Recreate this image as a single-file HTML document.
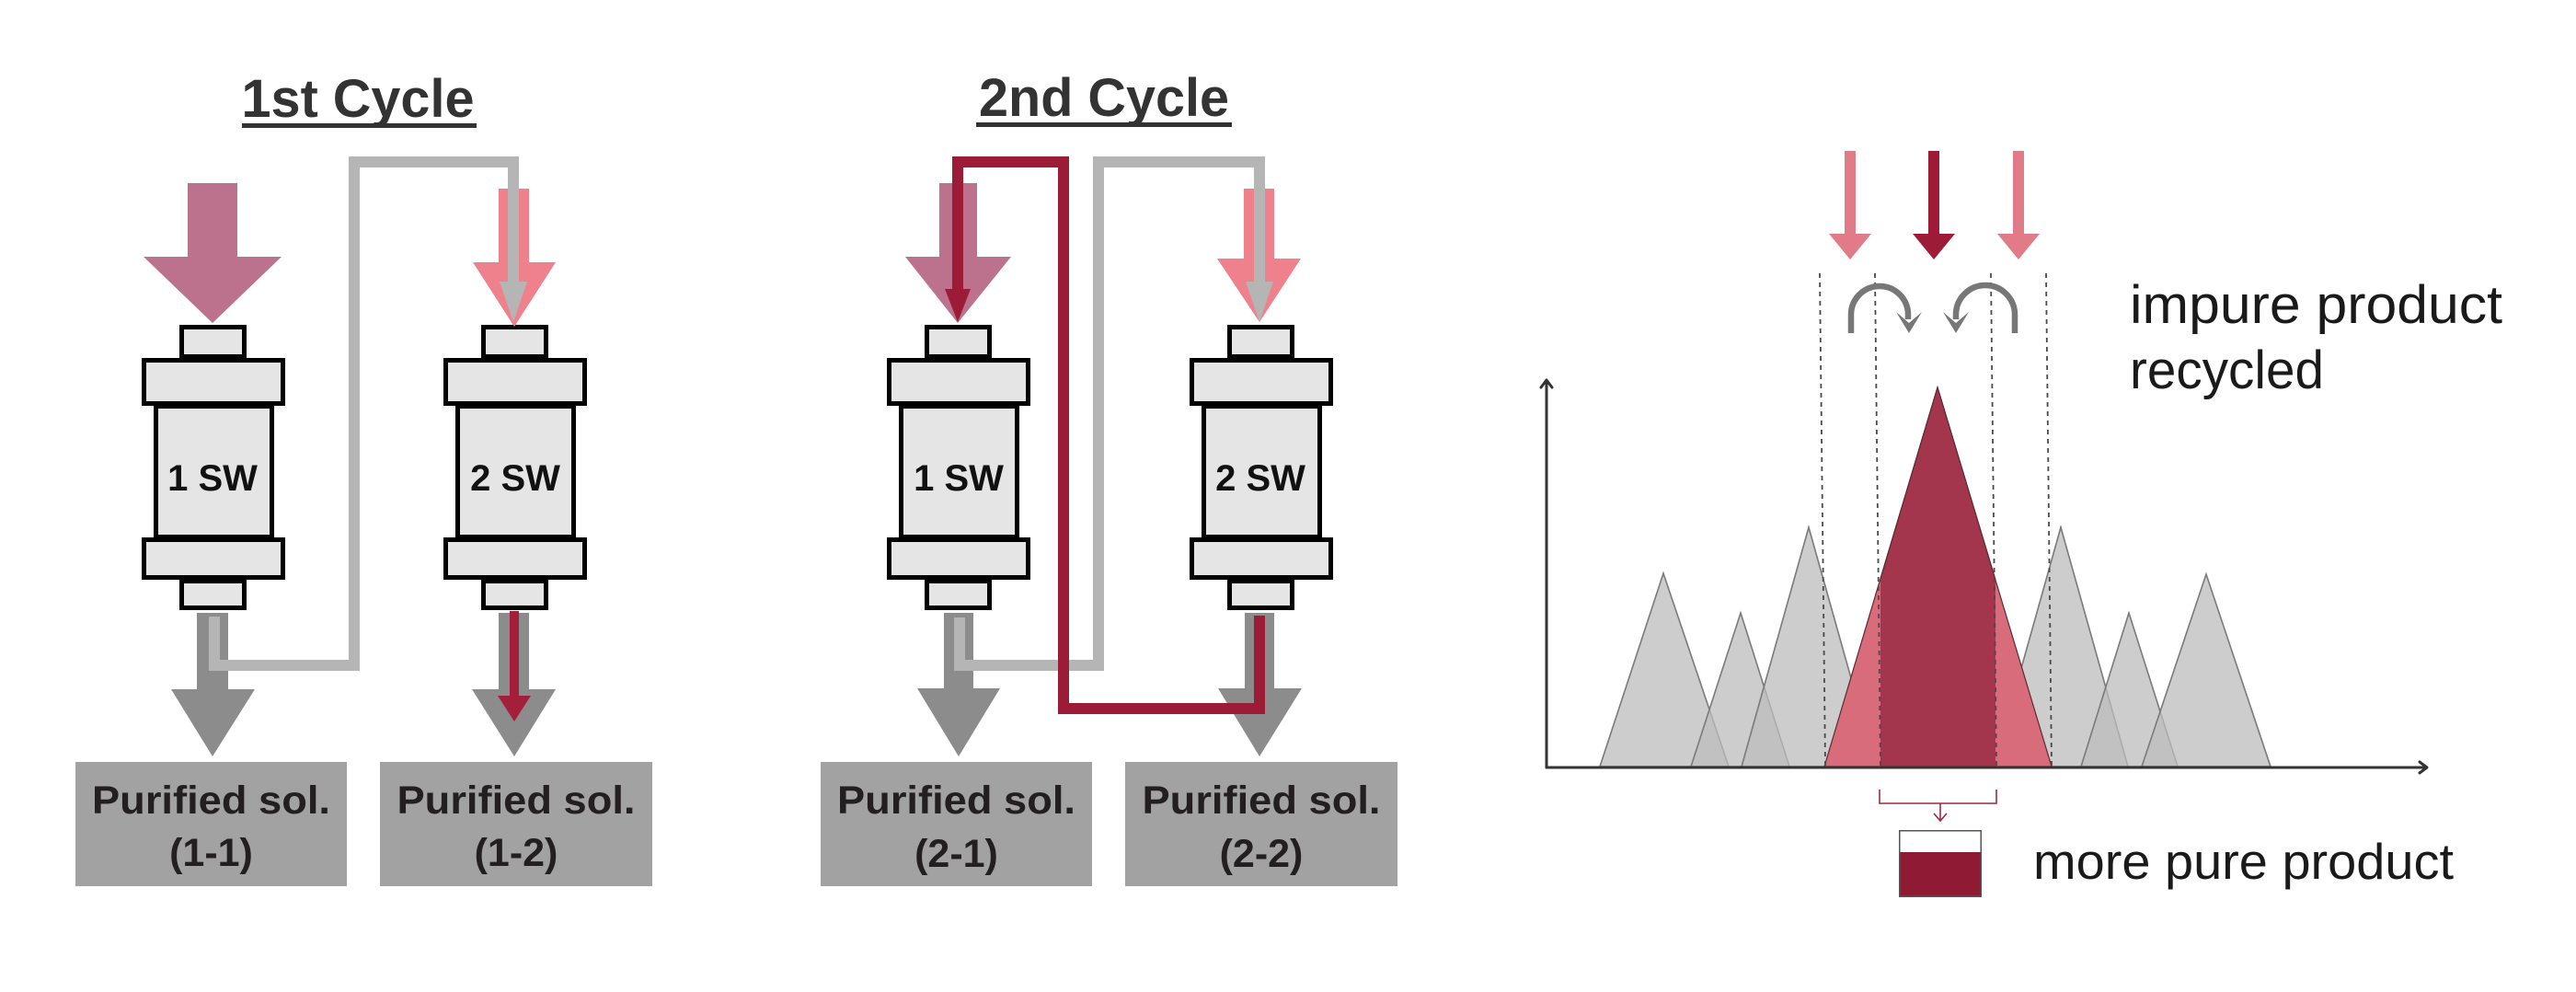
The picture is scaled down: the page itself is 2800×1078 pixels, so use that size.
<!DOCTYPE html>
<html>
<head>
<meta charset="utf-8">
<style>
  html, body { margin: 0; padding: 0; background: #ffffff; }
  svg { display: block; }
  .ttl { font-family: "Liberation Sans", sans-serif; font-weight: bold; font-size: 58px; fill: #333333; }
  .sw { font-family: "Liberation Sans", sans-serif; font-weight: bold; font-size: 40px; fill: #111111; }
  .box { font-family: "Liberation Sans", sans-serif; font-weight: bold; font-size: 43px; fill: #231f20; }
  .lbl { font-family: "Liberation Sans", sans-serif; font-size: 58px; fill: #1a1a1a; }
</style>
</head>
<body>
<svg width="2800" height="1078" viewBox="0 0 2800 1078" xmlns="http://www.w3.org/2000/svg">
  <rect x="0" y="0" width="2800" height="1078" fill="#ffffff"/>

  <!-- ===== Titles ===== -->
  <text class="ttl" x="389" y="127" text-anchor="middle" textLength="253" lengthAdjust="spacingAndGlyphs">1st Cycle</text>
  <rect x="263" y="134" width="255" height="5" fill="#333333"/>
  <text class="ttl" x="1200" y="126" text-anchor="middle" textLength="272" lengthAdjust="spacingAndGlyphs">2nd Cycle</text>
  <rect x="1061" y="133" width="278" height="5" fill="#333333"/>

  <!-- ===== Columns ===== -->
  <g id="cols" fill="#e5e5e5" stroke="#000000" stroke-width="5">
    <!-- col c=231 -->
    <rect x="169.5" y="441.5" width="126" height="142"/>
    <rect x="156.5" y="391.5" width="151" height="47"/>
    <rect x="156.5" y="586.5" width="151" height="41"/>
    <rect x="197.5" y="355.5" width="68" height="32"/>
    <rect x="197.5" y="631.5" width="68" height="29"/>
    <!-- col c=559 -->
    <rect x="497.5" y="441.5" width="126" height="142"/>
    <rect x="484.5" y="391.5" width="151" height="47"/>
    <rect x="484.5" y="586.5" width="151" height="41"/>
    <rect x="525.5" y="355.5" width="68" height="32"/>
    <rect x="525.5" y="631.5" width="68" height="29"/>
    <!-- col c=1041 -->
    <rect x="979.5" y="441.5" width="126" height="142"/>
    <rect x="966.5" y="391.5" width="151" height="47"/>
    <rect x="966.5" y="586.5" width="151" height="41"/>
    <rect x="1007.5" y="355.5" width="68" height="32"/>
    <rect x="1007.5" y="631.5" width="68" height="29"/>
    <!-- col c=1370 -->
    <rect x="1308.5" y="441.5" width="126" height="142"/>
    <rect x="1295.5" y="391.5" width="151" height="47"/>
    <rect x="1295.5" y="586.5" width="151" height="41"/>
    <rect x="1336.5" y="355.5" width="68" height="32"/>
    <rect x="1336.5" y="631.5" width="68" height="29"/>
  </g>
  <text class="sw" x="231" y="533" text-anchor="middle">1 SW</text>
  <text class="sw" x="560" y="533" text-anchor="middle">2 SW</text>
  <text class="sw" x="1042" y="533" text-anchor="middle">1 SW</text>
  <text class="sw" x="1370" y="533" text-anchor="middle">2 SW</text>

  <!-- ===== Input arrows ===== -->
  <polygon fill="#bc728c" points="204,199 258,199 258,279 306,279 231,351 156,279 204,279"/>
  <polygon fill="#ee818c" points="542,205 575,205 575,285 604,285 559,355 514,285 542,285"/>
  <polygon fill="#bc728c" points="1021,199 1062,199 1062,279 1099,279 1041,351 984,279 1021,279"/>
  <polygon fill="#ee818c" points="1352,205 1385,205 1385,281 1414,281 1369,350 1323,281 1352,281"/>

  <!-- ===== Output arrows (dark gray) ===== -->
  <polygon fill="#8c8c8c" points="214,666 248,666 248,749 277,749 231,822 186,749 214,749"/>
  <polygon fill="#8c8c8c" points="542,666 575,666 575,749 604,749 559,822 513,749 542,749"/>
  <polygon fill="#8c8c8c" points="1026,666 1058,666 1058,748 1087,748 1042,822 997,748 1026,748"/>
  <polygon fill="#8c8c8c" points="1353,666 1385,666 1385,748 1415,748 1369,822 1324,748 1353,748"/>

  <!-- ===== Light gray connectors ===== -->
  <polyline fill="none" stroke="#b5b5b5" stroke-width="12" stroke-linejoin="miter" points="233,670 233,723 385,723 385,176 558,176 558,310"/>
  <polygon fill="#b5b5b5" points="543,306 573,306 558,350"/>
  <polyline fill="none" stroke="#b5b5b5" stroke-width="12" stroke-linejoin="miter" points="1043,671 1043,723 1194,723 1194,176 1369,176 1369,310"/>
  <polygon fill="#b5b5b5" points="1354,306 1384,306 1369,350"/>

  <!-- ===== Red connectors ===== -->
  <rect x="554" y="664" width="10" height="94" fill="#a41f3a"/>
  <polygon fill="#a41f3a" points="541,756 577,756 559,784"/>
  <polyline fill="none" stroke="#9c1c37" stroke-width="12" stroke-linejoin="miter" points="1369,669 1369,770 1156,770 1156,176 1041,176 1041,318"/>
  <polygon fill="#9c1c37" points="1027,314 1055,314 1041,350"/>

  <!-- ===== Purified boxes ===== -->
  <rect x="82" y="828" width="295" height="135" fill="#a2a2a2"/>
  <rect x="413" y="828" width="296" height="135" fill="#a2a2a2"/>
  <rect x="892" y="828" width="295" height="135" fill="#a2a2a2"/>
  <rect x="1223" y="828" width="296" height="135" fill="#a2a2a2"/>
  <text class="box" x="229.5" y="884" text-anchor="middle" textLength="259" lengthAdjust="spacingAndGlyphs">Purified sol.</text>
  <text class="box" x="229.5" y="941" text-anchor="middle">(1-1)</text>
  <text class="box" x="561" y="884" text-anchor="middle" textLength="259" lengthAdjust="spacingAndGlyphs">Purified sol.</text>
  <text class="box" x="561" y="941" text-anchor="middle">(1-2)</text>
  <text class="box" x="1039.5" y="884" text-anchor="middle" textLength="259" lengthAdjust="spacingAndGlyphs">Purified sol.</text>
  <text class="box" x="1039.5" y="942" text-anchor="middle">(2-1)</text>
  <text class="box" x="1371" y="884" text-anchor="middle" textLength="259" lengthAdjust="spacingAndGlyphs">Purified sol.</text>
  <text class="box" x="1371" y="942" text-anchor="middle">(2-2)</text>

  <!-- ===== Chart ===== -->
  <!-- gray peaks -->
  <g fill="#bcbcbc" fill-opacity="0.75" stroke="#7a7a7a" stroke-width="1.6" stroke-linejoin="miter">
    <polygon points="1739,833 1808,623 1879,833"/>
    <polygon points="1838,833 1892,666 1945,833"/>
    <polygon points="1893,833 1966,573 2039,833"/>
    <polygon points="2167,833 2240,573 2313,833"/>
    <polygon points="2262,833 2314,666 2367,833"/>
    <polygon points="2328,833 2398,624 2468,833"/>
  </g>
  <!-- main red peak -->
  <polygon points="1983,833 2106,421 2230,833" fill="#d96c7a" stroke="#5a2a33" stroke-width="1.2"/>
  <polygon points="2044,833 2044,629 2106,421 2169,630 2169,833" fill="#a3364c"/>
  <polyline points="2044,629 2106,421 2169,630" fill="none" stroke="#5a2a33" stroke-width="1.2"/>

  <!-- dashed guide lines -->
  <g stroke="#4a4a4a" stroke-width="1.8" stroke-dasharray="5 5" fill="none">
    <line x1="1978" y1="297" x2="1984" y2="833"/>
    <line x1="2038" y1="297" x2="2044" y2="833"/>
    <line x1="2164" y1="297" x2="2170" y2="833"/>
    <line x1="2224" y1="297" x2="2230" y2="833"/>
  </g>

  <!-- axes -->
  <g stroke="#333333" stroke-width="3" fill="none" stroke-linecap="round" stroke-linejoin="round">
    <path d="M1681 834 V414"/>
    <path d="M1675 421 L1681 413 L1687 421"/>
    <path d="M1681 834 H2636"/>
    <path d="M2630 828 L2638 834 L2630 840"/>
  </g>

  <!-- top arrows -->
  <polygon fill="#e07b87" points="2005,164 2017,164 2017,254 2034,254 2011,282 1988,254 2005,254"/>
  <polygon fill="#9d1b36" points="2096,164 2108,164 2108,254 2125,254 2102,282 2079,254 2096,254"/>
  <polygon fill="#e07b87" points="2188,164 2200,164 2200,254 2217,254 2194,282 2171,254 2188,254"/>

  <!-- curved recycle arrows -->
  <path d="M2012 362 V342 A31 31 0 0 1 2074 342 V347" fill="none" stroke="#777777" stroke-width="6.5"/>
  <polygon fill="#777777" points="2061,339 2075,362 2089,339 2075,351"/>
  <path d="M2190 362 V342 A32 32 0 0 0 2126 342 V347" fill="none" stroke="#777777" stroke-width="6.5"/>
  <polygon fill="#777777" points="2112,339 2126,362 2140,339 2126,351"/>

  <!-- labels -->
  <text class="lbl" x="2315" y="351" textLength="405" lengthAdjust="spacingAndGlyphs">impure product</text>
  <text class="lbl" x="2315" y="422" textLength="211" lengthAdjust="spacingAndGlyphs">recycled</text>

  <!-- bracket + small arrow -->
  <g stroke="#9e2a45" stroke-width="1.6" fill="none">
    <path d="M2043 858 V873 H2170 V858"/>
    <path d="M2109 873 V891"/>
    <path d="M2102 884 L2109 892 L2116 884"/>
  </g>

  <!-- vial -->
  <rect x="2064" y="902" width="90" height="73" fill="#ffffff"/>
  <rect x="2064" y="926" width="90" height="49" fill="#8e1a33"/>
  <rect x="2064.75" y="902.75" width="88.5" height="71.5" fill="none" stroke="#555555" stroke-width="1.5"/>

  <text class="lbl" x="2210" y="955" style="font-size:55px" textLength="457" lengthAdjust="spacingAndGlyphs">more pure product</text>
</svg>
</body>
</html>
